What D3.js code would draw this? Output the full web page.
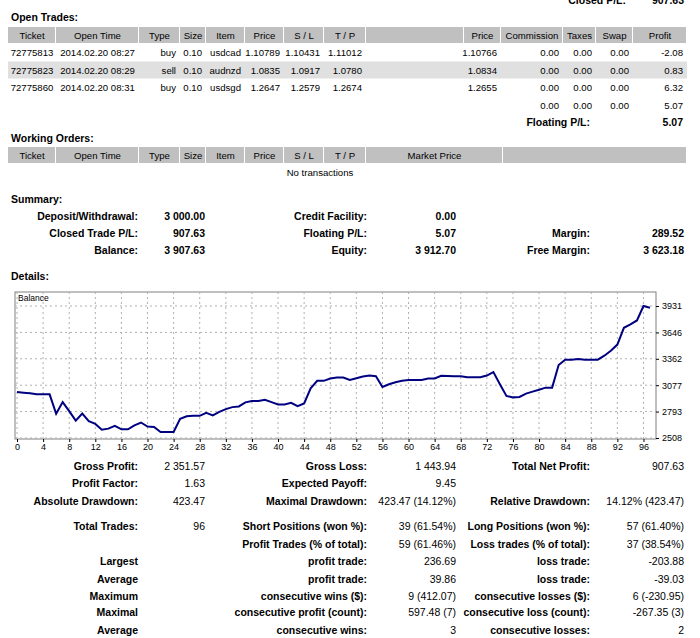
<!DOCTYPE html>
<html><head><meta charset="utf-8">
<script src="https://cdn.jsdelivr.net/npm/d3@7/dist/d3.min.js"></script>
<style>body{margin:0;background:#fff}text{font-family:"Liberation Sans",Arial,sans-serif;font-size:10.5px;fill:#000}.b{font-weight:bold}.t{font-size:9.6px}</style>
</head><body><svg id="s" width="700" height="638"></svg>
<script>
// balance curve, one point per closed trade
var balance = [3004,2997,2990,2979,2979,2979,2769,2895,2798,2696,2772,2689,2660,2598,2609,2638,2602,2602,2645,2675,
  2631,2627,2573,2573,2573,2714,2743,2747,2747,2779,2751,2790,2819,2841,2848,2892,2906,2906,2921,2895,
  2870,2870,2888,2852,2881,3044,3124,3124,3149,3160,3160,3134,3153,3171,3181,3174,3058,3087,3109,3124,
  3134,3134,3134,3149,3149,3178,3176,3174,3174,3163,3163,3163,3181,3218,3087,2961,2946,2950,2986,3008,
  3029,3051,3051,3294,3352,3352,3359,3352,3352,3352,3395,3449,3515,3696,3732,3775,3931,3913];
var yTicks = [2508,2793,3077,3362,3646,3931];
var xTicks = d3.range(0,97,4);

var openCols = ["Ticket","Open Time","Type","Size","Item","Price","S / L","T / P","","Price","Commission","Taxes","Swap","Profit"];
var openEdges = [8,56,139,180,206,245,284,324,366,464,501,563,596,633,687];
var openRows = [
  ["72775813","2014.02.20 08:27","buy","0.10","usdcad","1.10789","1.10431","1.11012","","1.10766","0.00","0.00","0.00","-2.08"],
  ["72775823","2014.02.20 08:29","sell","0.10","audnzd","1.0835","1.0917","1.0780","","1.0834","0.00","0.00","0.00","0.83"],
  ["72775860","2014.02.20 08:31","buy","0.10","usdsgd","1.2647","1.2579","1.2674","","1.2655","0.00","0.00","0.00","6.32"]];
var workCols = ["Ticket","Open Time","Type","Size","Item","Price","S / L","T / P","Market Price",""];
var workEdges = [8,56,139,180,206,245,284,324,366,503,687];

var summary = [
  ["Deposit/Withdrawal:","3 000.00","Credit Facility:","0.00","",""],
  ["Closed Trade P/L:","907.63","Floating P/L:","5.07","Margin:","289.52"],
  ["Balance:","3 907.63","Equity:","3 912.70","Free Margin:","3 623.18"]];
var details = [
  [470,"Gross Profit:","2 351.57","Gross Loss:","1 443.94","Total Net Profit:","907.63"],
  [487,"Profit Factor:","1.63","Expected Payoff:","9.45","",""],
  [505,"Absolute Drawdown:","423.47","Maximal Drawdown:","423.47 (14.12%)","Relative Drawdown:","14.12% (423.47)"],
  [530,"Total Trades:","96","Short Positions (won %):","39 (61.54%)","Long Positions (won %):","57 (61.40%)"],
  [548,"","","Profit Trades (% of total):","59 (61.46%)","Loss trades (% of total):","37 (38.54%)"],
  [565,"Largest","","profit trade:","236.69","loss trade:","-203.88"],
  [583,"Average","","profit trade:","39.86","loss trade:","-39.03"],
  [600,"Maximum","","consecutive wins ($):","9 (412.07)","consecutive losses ($):","6 (-230.95)"],
  [616,"Maximal","","consecutive profit (count):","597.48 (7)","consecutive loss (count):","-267.35 (3)"],
  [634,"Average","","consecutive wins:","3","consecutive losses:","2"]];

var svg = d3.select("#s");
function txt(x,y,t,anchor,cls){
  return svg.append("text").attr("x",x).attr("y",y).attr("text-anchor",anchor||"start").attr("class",cls||null).text(t);
}
function header(edges,cols,y){
  cols.forEach(function(c,i){
    svg.append("rect").attr("x",edges[i]).attr("y",y).attr("width",edges[i+1]-edges[i]-1).attr("height",16).attr("fill","#c0c0c0");
    txt((edges[i]+edges[i+1])/2,y+12,c,"middle","t");
  });
}

txt(626,4,"Closed P/L:","end","b"); txt(684,4,"907.63","end","b");
txt(11,21,"Open Trades:","start","b");
header(openEdges,openCols,27);
openRows.forEach(function(r,j){
  var y = 44+j*17.5;
  if (j==1) svg.append("rect").attr("x",8).attr("y",y).attr("width",679).attr("height",17).attr("fill","#e0e0e0");
  r.forEach(function(v,i){
    if (i<2) txt((openEdges[i]+openEdges[i+1])/2,y+12,v,"middle","t");
    else txt(openEdges[i+1]-4,y+12,v,"end","t");
  });
});
var sumY = 44+3*17.5+12;
[10,11,12].forEach(function(i){txt(openEdges[i+1]-4,sumY,"0.00","end","t");});
txt(683,sumY,"5.07","end","t");
txt(590,sumY+17,"Floating P/L:","end","b"); txt(683,sumY+17,"5.07","end","b");

txt(11,142,"Working Orders:","start","b");
header(workEdges,workCols,147);
txt(320,176,"No transactions","middle","t");

txt(11,203,"Summary:","start","b");
summary.forEach(function(r,j){
  var y = 220+j*17;
  txt(138,y,r[0],"end","b"); txt(205,y,r[1],"end","b");
  txt(367,y,r[2],"end","b"); txt(456,y,r[3],"end","b");
  txt(590,y,r[4],"end","b"); txt(684,y,r[5],"end","b");
});
txt(11,280,"Details:","start","b");

// chart
var x = d3.scaleLinear().domain([0,97]).range([17,650]);
var y = d3.scaleLinear().domain([2508,3931]).range([438,306]);
svg.append("rect").attr("x",15).attr("y",292).attr("width",641).attr("height",147).attr("fill","#fff").attr("stroke","#808080");
var g = svg.append("g");
yTicks.forEach(function(t){
  g.append("line").attr("x1",15).attr("x2",656).attr("y1",y(t)).attr("y2",y(t)).attr("stroke","#b0b0b0").attr("stroke-dasharray","2,3");
});
xTicks.forEach(function(t){
  g.append("line").attr("x1",x(t)).attr("x2",x(t)).attr("y1",292).attr("y2",439).attr("stroke","#b0b0b0").attr("stroke-dasharray","2,3");
});
svg.append("g").attr("transform","translate(656,0)")
  .call(d3.axisRight(y).tickValues(yTicks).tickSize(3).tickFormat(d3.format("d")))
  .call(function(a){a.select(".domain").remove();a.selectAll("text").style("font-size","9px");});
svg.append("g").attr("transform","translate(0,439)")
  .call(d3.axisBottom(x).tickValues(xTicks).tickSize(3))
  .call(function(a){a.select(".domain").remove();a.selectAll("text").style("font-size","9px").attr("dy","0.6em");});
svg.append("path").datum(balance)
  .attr("d",d3.line().x(function(d,i){return x(i);}).y(function(d){return y(d);}))
  .attr("fill","none").attr("stroke","#000080").attr("stroke-width",2);
svg.append("text").attr("x",18).attr("y",301).style("font-size","8.5px").text("Balance");

details.forEach(function(r){
  txt(138,r[0],r[1],"end","b"); txt(205,r[0],r[2],"end");
  txt(367,r[0],r[3],"end","b"); txt(456,r[0],r[4],"end");
  txt(590,r[0],r[5],"end","b"); txt(684,r[0],r[6],"end");
});
</script></body></html>
